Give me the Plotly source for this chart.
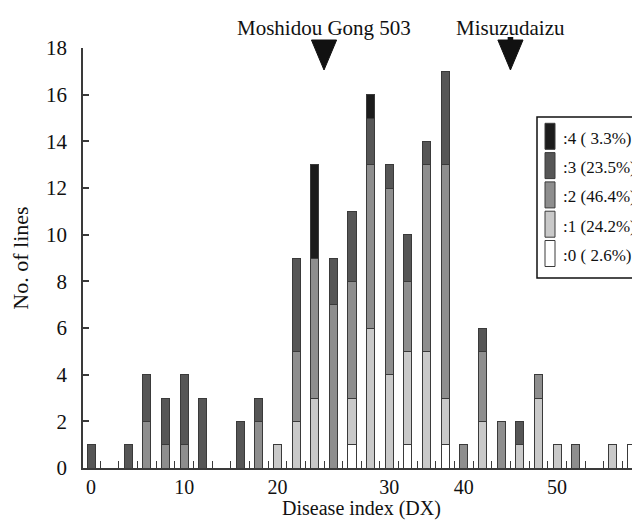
import plotly.graph_objects as go

# ---------------- data ----------------
DX = [0, 4, 6, 8, 10, 12, 16, 18, 20, 22, 24, 26, 28, 30, 32, 34, 36, 38,
      40, 42, 44, 46, 48, 50, 52, 56, 58]
CLASS0 = [0, 0, 0, 0, 0, 0, 0, 0, 0, 0, 0, 0, 1, 0, 0, 1, 0, 1,
          0, 0, 0, 0, 0, 0, 0, 0, 1]
CLASS1 = [0, 0, 0, 0, 0, 0, 0, 0, 1, 2, 3, 0, 2, 6, 4, 4, 5, 2,
          0, 2, 0, 1, 3, 1, 0, 1, 0]
CLASS2 = [0, 0, 2, 1, 1, 0, 0, 2, 0, 3, 6, 7, 5, 7, 8, 3, 8, 10,
          1, 3, 2, 0, 1, 0, 1, 0, 0]
CLASS3 = [1, 1, 2, 2, 3, 3, 2, 1, 0, 4, 0, 2, 3, 2, 1, 2, 1, 4,
          0, 1, 0, 1, 0, 0, 0, 0, 0]
CLASS4 = [0, 0, 0, 0, 0, 0, 0, 0, 0, 0, 4, 0, 0, 1, 0, 0, 0, 0,
          0, 0, 0, 0, 0, 0, 0, 0, 0]
CLASS_NAMES = ["0", "1", "2", "3", "4"]
X_TICK_POS = [0, 10, 20, 32, 40, 50]
X_TICK_TEXT = ["0", "10", "20", "30", "40", "50"]
Y_TICKS = [0, 2, 4, 6, 8, 10, 12, 14, 16, 18]
MINOR_X_TICKS = list(range(1, 58, 2))
MARKER_NAMES = ["Moshidou Gong 503", "Misuzudaizu"]
MARKER_DX = [25, 45]

# ---------------- styles ----------------
COLORS = ["#ffffff", "#c9c9c9", "#8e8e8e", "#565656", "#1c1c1c"]
LINE = "#3a3a3a"
FONT = "Liberation Serif, Times New Roman, DejaVu Serif, serif"

series = [CLASS0, CLASS1, CLASS2, CLASS3, CLASS4]
total = sum(sum(s) for s in series)

fig = go.Figure()
for name, vals, col in zip(CLASS_NAMES, series, COLORS):
    fig.add_trace(go.Bar(
        x=DX, y=vals, name=name, width=0.86,
        marker=dict(color=col, line=dict(color=LINE, width=1)),
        showlegend=False,
    ))

OFF = 8  # page body margin
W, H = 640 - OFF, 520 - OFF
ML, MR, MT, MB = 83 - OFF, 0, 48 - OFF, 52
PW, PH = W - ML - MR, H - MT - MB


def px(xp):
    return (xp - OFF - ML) / PW


def py(yp):
    return (H - MB - (yp - OFF)) / PH


shapes = []
annotations = []

# markers above the chart
for name, dx in zip(MARKER_NAMES, MARKER_DX):
    shapes.append(dict(
        type="path", xref="x", yref="paper",
        path=f"M {dx-1.35},{py(40)} L {dx+1.35},{py(40)} L {dx},{py(70)} Z",
        fillcolor="#111111", line=dict(color="#111111", width=1),
    ))
    annotations.append(dict(
        x=dx, y=py(28), xref="x", yref="paper", text=name, showarrow=False,
        xanchor="center", yanchor="middle",
        font=dict(family=FONT, size=21, color="#111111"),
    ))
shapes.append(dict(type="rect", xref="x", yref="paper",
                   x0=MARKER_DX[1] - 0.3, x1=MARKER_DX[1] + 0.3,
                   y0=py(41), y1=py(37),
                   fillcolor="#111111", line=dict(width=0)))

# legend box (manual, clipped at right edge like the reference)
shapes.append(dict(type="rect", xref="paper", yref="paper",
                   x0=px(537), x1=px(700), y0=py(278), y1=py(117),
                   fillcolor="white", line=dict(color="#111111", width=1.5),
                   layer="above"))
for i, k in enumerate([4, 3, 2, 1, 0]):
    top = 123.3 + i * 29.3
    shapes.append(dict(type="rect", xref="paper", yref="paper",
                       x0=px(545), x1=px(555), y0=py(top + 26), y1=py(top),
                       fillcolor=COLORS[k], line=dict(color=LINE, width=1),
                       layer="above"))
    pct = 100 * sum(series[k]) / total
    annotations.append(dict(
        x=px(561), y=py(top + 15), xref="paper", yref="paper",
        text=f":{CLASS_NAMES[k]} ({pct:4.1f}%)",
        showarrow=False, xanchor="left", yanchor="middle",
        font=dict(family=FONT, size=17, color="#111111"),
    ))

fig.update_layout(
    width=W, height=H,
    margin=dict(l=ML, r=MR, t=MT, b=MB),
    barmode="stack",
    plot_bgcolor="white", paper_bgcolor="white",
    font=dict(family=FONT, size=20, color="#111111"),
    shapes=shapes, annotations=annotations,
    xaxis=dict(
        range=[-0.86, 58.9],
        tickmode="array", tickvals=X_TICK_POS, ticktext=X_TICK_TEXT,
        ticks="", showgrid=False, zeroline=False,
        showline=True, linecolor=LINE, linewidth=1.5,
        ticklabelstandoff=0,
        minor=dict(tickmode="array", tickvals=MINOR_X_TICKS, ticks="inside",
                   ticklen=7, tickcolor=LINE, tickwidth=1, showgrid=False),
        title=dict(text="Disease index (DX)", standoff=6,
                   font=dict(family=FONT, size=20)),
        tickfont=dict(family=FONT, size=20),
    ),
    yaxis=dict(
        range=[0, 18],
        tickmode="array", tickvals=Y_TICKS,
        ticks="inside", ticklen=6, tickcolor=LINE, tickwidth=1.5,
        showgrid=False, zeroline=False,
        showline=True, linecolor=LINE, linewidth=1.5,
        ticklabelstandoff=10,
        title=dict(text="No. of lines", standoff=18,
                   font=dict(family=FONT, size=22)),
        tickfont=dict(family=FONT, size=21),
    ),
)

fig.write_html("out.html")
